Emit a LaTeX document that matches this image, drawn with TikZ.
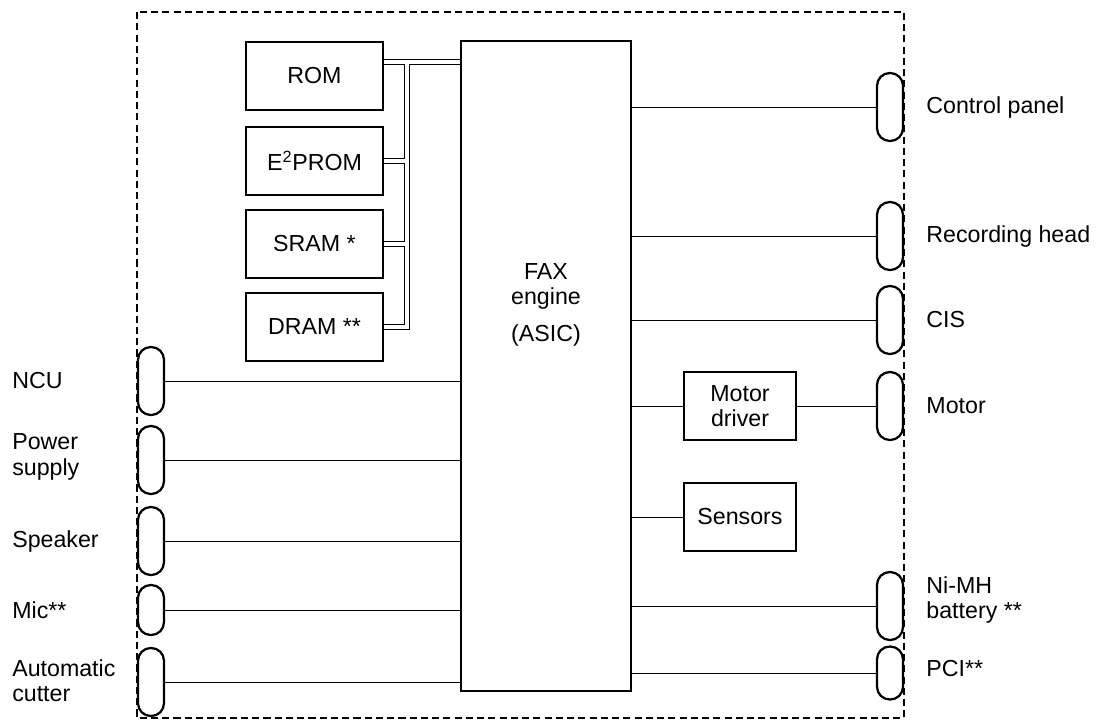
\documentclass[tikz,border=0pt]{standalone}
\usepackage{fontspec}
\setmainfont{Liberation Sans}
\usetikzlibrary{positioning}

\begin{document}
\begin{tikzpicture}[x=0.025cm, y=-0.025cm, font=\fontsize{16.5}{18}\selectfont]
    % Define styles
    \tikzstyle{block} = [rectangle, draw, line width=1.6pt, minimum width=3.425cm, minimum height=1.7cm, inner sep=0pt, align=center]
    \tikzstyle{plug} = [rectangle, draw, line width=1.6pt, rounded corners=0.32cm, minimum width=0.65cm, minimum height=1.7cm, inner sep=0pt]
    \tikzstyle{wire} = [line width=0.7pt]
    \tikzstyle{bus} = [draw=white, line width=2.5pt, preaction={draw=black, line width=3.8pt}]
    \tikzstyle{tag} = [inner sep=0pt, align=left]
    \tikzstyle{frame} = [line width=1.5pt, dash pattern=on 5pt off 3pt]

    \useasboundingbox (0,0) rectangle (1106,725);
    \fill[white] (0,0) rectangle (1106,725);

    % Board outline
    \draw[frame] (137,12) rectangle (904,718);

    % Nodes
    \node[draw, line width=1.6pt, minimum width=4.25cm, minimum height=16.25cm] (asic) at (546,366) {};
    \node[align=center] (asictxt) at (546,305) {FAX\\engine\\[0.3cm](ASIC)};

    \node[block] (rom) at (314.5,76) {ROM};
    \node[block] (eprom) at (314.5,161) {E\textsuperscript{2}PROM};
    \node[block] (sram) at (314.5,244) {SRAM *};
    \node[block] (dram) at (314.5,327) {DRAM **};

    \node[block, minimum width=2.8cm] (mdrv) at (740,406) {Motor\\driver};
    \node[block, minimum width=2.8cm] (sens) at (740,517) {Sensors};

    % Connectors, right side
    \node[plug] (cpanel) at (890,107) {};
    \node[plug] (rhead) at (890,236) {};
    \node[plug] (cis) at (890,320) {};
    \node[plug] (motor) at (890,406) {};
    \node[plug] (batt) at (890,606) {};
    \node[plug, minimum height=1.325cm] (pci) at (890,673) {};

    \node[tag, right=0.55cm of cpanel] (cpaneltxt) {Control panel};
    \node[tag, right=0.55cm of rhead] (rheadtxt) {Recording head};
    \node[tag, right=0.55cm of cis] (cistxt) {CIS};
    \node[tag, right=0.55cm of motor] (motortxt) {Motor};
    \node[tag, right=0.55cm of batt, yshift=0.15cm] (batttxt) {Ni-MH\\battery **};
    \node[tag, right=0.55cm of pci, yshift=0.1cm] (pcitxt) {PCI**};

    % Connectors, left side
    \node[plug] (ncu) at (151,381) {};
    \node[plug] (psu) at (151,460) {};
    \node[plug] (spk) at (151,541) {};
    \node[plug, minimum height=1.25cm] (mic) at (151,610) {};
    \node[plug] (cutter) at (151,682) {};

    \node[tag, anchor=west] (ncutxt) at (12,381) {NCU};
    \node[tag, anchor=west] (psutxt) at (12,457) {Power\\supply};
    \node[tag, anchor=west] (spktxt) at (12,541) {Speaker};
    \node[tag, anchor=west] (mictxt) at (12,610) {Mic**};
    \node[tag, anchor=west] (cuttertxt) at (12,681) {Automatic\\cutter};

    % Memory bus
    \coordinate (tap) at ([yshift=0.35cm]rom.east);
    \coordinate (spine) at (407,0);
    \path[bus] (tap) -- (tap -| asic.west)
        (tap -| spine) |- (dram.east)
        (eprom.east) -- (eprom.east -| spine)
        (sram.east) -- (sram.east -| spine);

    % Signal lines
    \foreach \p in {cpanel,rhead,cis,batt,pci}
        \draw[wire] (asic.east |- \p) -- (\p.west);
    \draw[wire] (asic.east |- mdrv) -- (mdrv.west);
    \draw[wire] (mdrv.east) -- (motor.west);
    \draw[wire] (asic.east |- sens) -- (sens.west);
    \foreach \p in {ncu,psu,spk,mic,cutter}
        \draw[wire] (\p.east) -- (asic.west |- \p);
\end{tikzpicture}
\end{document}
